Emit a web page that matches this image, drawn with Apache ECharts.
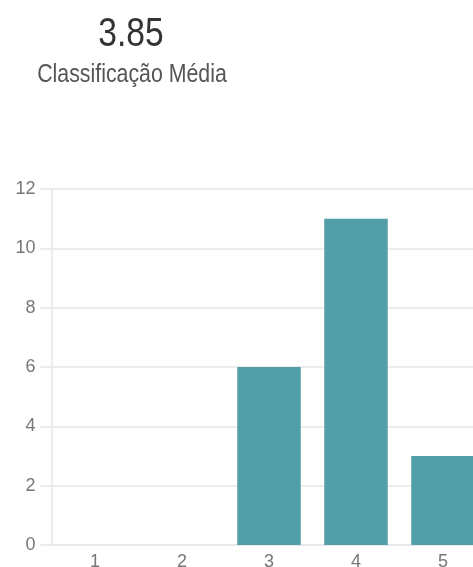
<!DOCTYPE html>
<html>
<head>
<meta charset="utf-8">
<script src="https://cdn.jsdelivr.net/npm/echarts@6/dist/echarts.min.js"></script>
<style>
  html, body { margin: 0; padding: 0; background: #fff; }
  #chart { width: 473px; height: 567px; }
</style>
</head>
<body>
<div id="chart"></div>
<script>
// ratings 1..5 and how many answers each got
var categories = ["1", "2", "3", "4", "5"];
var counts = [0, 0, 6, 11, 3];
var averageLabel = "3.85";
var subtitleLabel = "Classificação Média";

var chart = echarts.init(document.getElementById("chart"));
var axisGray = "#e6e6e6";
var font = "'Liberation Sans', sans-serif";

chart.setOption({
  animation: false,
  // the headline is a narrow font in the original, so squeeze it a bit
  graphic: [
    {
      type: "text",
      x: 131,
      y: 14,
      scaleX: 0.82,
      style: {
        text: averageLabel,
        fontFamily: font,
        fontSize: 41,
        fill: "#333",
        textAlign: "center",
        textVerticalAlign: "top"
      }
    },
    {
      type: "text",
      x: 132,
      y: 62,
      scaleX: 0.82,
      style: {
        text: subtitleLabel,
        fontFamily: font,
        fontSize: 26,
        fill: "#555",
        textAlign: "center",
        textVerticalAlign: "top"
      }
    }
  ],
  // the original is cut off on the right, so the grid runs past the edge
  grid: {
    left: 51.5,
    width: 435,
    top: 189,
    bottom: 22,
    containLabel: false,
    outerBoundsMode: "none"
  },
  xAxis: {
    type: "category",
    data: categories,
    axisLine: { lineStyle: { color: axisGray, width: 1.5 } },
    axisTick: { show: false },
    axisLabel: { color: "#777", fontFamily: font, fontSize: 18, margin: 8 }
  },
  yAxis: {
    type: "value",
    min: 0,
    max: 12,
    interval: 2,
    axisLine: { show: true, lineStyle: { color: axisGray, width: 1.5 } },
    axisTick: { show: true, length: 11, lineStyle: { color: axisGray, width: 1.5 } },
    axisLabel: { color: "#777", fontFamily: font, fontSize: 18, margin: 16 },
    splitLine: { lineStyle: { color: axisGray, width: 1.5 } }
  },
  series: [
    {
      type: "bar",
      data: counts,
      barWidth: "73%",
      itemStyle: { color: "#529ea9" }
    }
  ]
});
</script>
</body>
</html>
